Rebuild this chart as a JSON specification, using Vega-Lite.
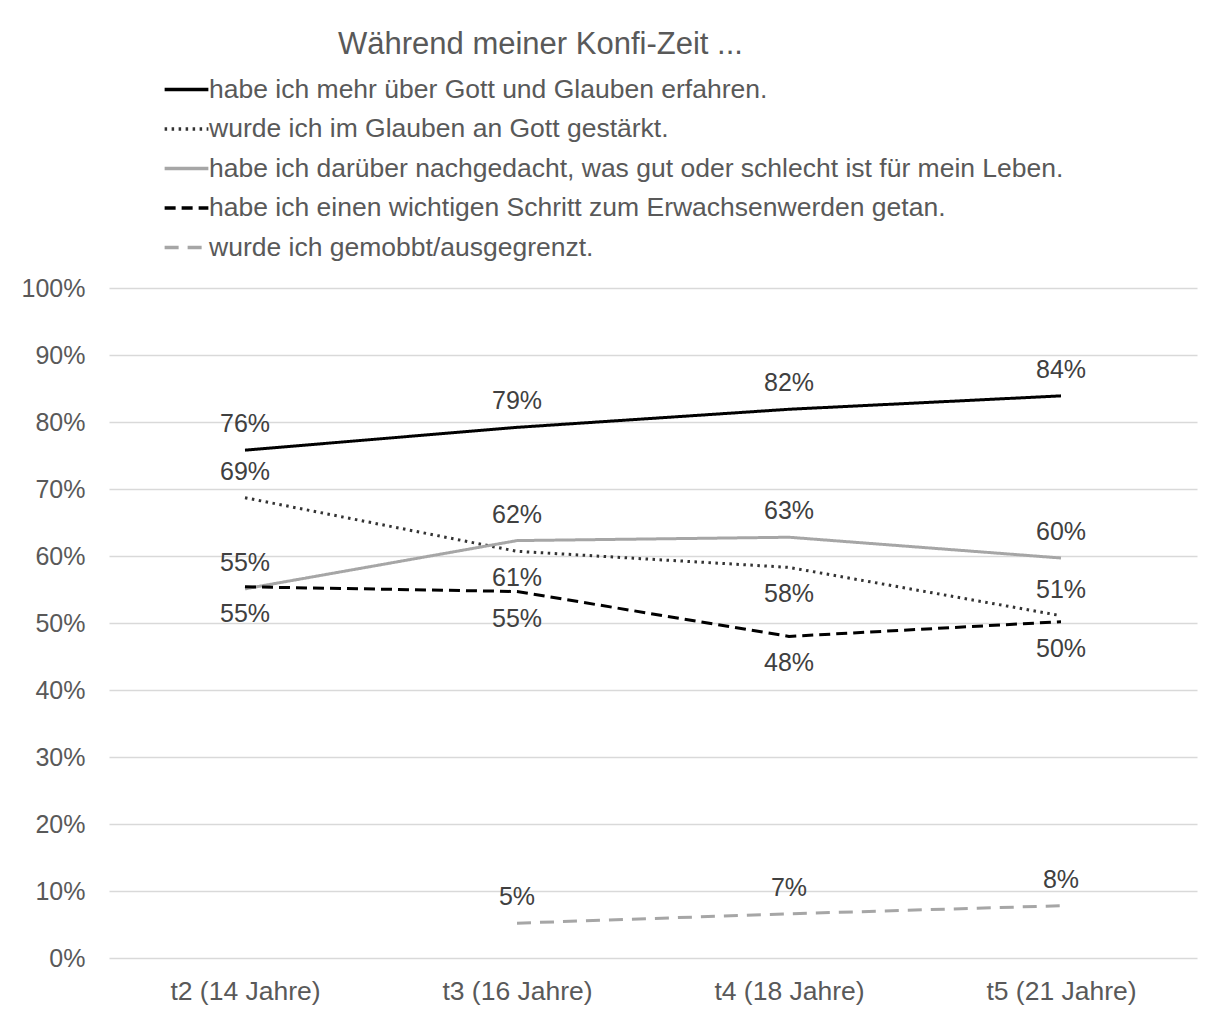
{
  "$schema": "https://vega.github.io/schema/vega-lite/v6.json",
  "autosize": "none",
  "width": 1088,
  "height": 670,
  "padding": {"left": 109, "top": 288, "right": 15, "bottom": 52},
  "background": "white",
  "title": {
    "text": "Während meiner Konfi-Zeit ...",
    "anchor": "start",
    "frame": "group",
    "dx": 229,
    "offset": 9,
    "fontSize": 31,
    "fontWeight": "normal",
    "font": "Liberation Sans",
    "color": "#595959"
  },
  "data": {
    "values": [
      {"t": "t2 (14 Jahre)", "s": "habe ich mehr über Gott und Glauben erfahren.", "v": 0.758},
      {"t": "t3 (16 Jahre)", "s": "habe ich mehr über Gott und Glauben erfahren.", "v": 0.792},
      {"t": "t4 (18 Jahre)", "s": "habe ich mehr über Gott und Glauben erfahren.", "v": 0.819},
      {"t": "t5 (21 Jahre)", "s": "habe ich mehr über Gott und Glauben erfahren.", "v": 0.839},
      {"t": "t2 (14 Jahre)", "s": "wurde ich im Glauben an Gott gestärkt.", "v": 0.687},
      {"t": "t3 (16 Jahre)", "s": "wurde ich im Glauben an Gott gestärkt.", "v": 0.607},
      {"t": "t4 (18 Jahre)", "s": "wurde ich im Glauben an Gott gestärkt.", "v": 0.583},
      {"t": "t5 (21 Jahre)", "s": "wurde ich im Glauben an Gott gestärkt.", "v": 0.511},
      {"t": "t2 (14 Jahre)", "s": "habe ich darüber nachgedacht, was gut oder schlecht ist für mein Leben.", "v": 0.551},
      {"t": "t3 (16 Jahre)", "s": "habe ich darüber nachgedacht, was gut oder schlecht ist für mein Leben.", "v": 0.623},
      {"t": "t4 (18 Jahre)", "s": "habe ich darüber nachgedacht, was gut oder schlecht ist für mein Leben.", "v": 0.628},
      {"t": "t5 (21 Jahre)", "s": "habe ich darüber nachgedacht, was gut oder schlecht ist für mein Leben.", "v": 0.597},
      {"t": "t2 (14 Jahre)", "s": "habe ich einen wichtigen Schritt zum Erwachsenwerden getan.", "v": 0.554},
      {"t": "t3 (16 Jahre)", "s": "habe ich einen wichtigen Schritt zum Erwachsenwerden getan.", "v": 0.547},
      {"t": "t4 (18 Jahre)", "s": "habe ich einen wichtigen Schritt zum Erwachsenwerden getan.", "v": 0.48},
      {"t": "t5 (21 Jahre)", "s": "habe ich einen wichtigen Schritt zum Erwachsenwerden getan.", "v": 0.502},
      {"t": "t3 (16 Jahre)", "s": "wurde ich gemobbt/ausgegrenzt.", "v": 0.052},
      {"t": "t4 (18 Jahre)", "s": "wurde ich gemobbt/ausgegrenzt.", "v": 0.066},
      {"t": "t5 (21 Jahre)", "s": "wurde ich gemobbt/ausgegrenzt.", "v": 0.078}
    ]
  },
  "encoding": {
    "x": {
      "field": "t",
      "type": "nominal",
      "sort": null,
      "scale": {"type": "point", "padding": 0.5},
      "axis": {
        "title": null,
        "labelAngle": 0,
        "ticks": false,
        "domain": false,
        "labelPadding": 20,
        "labelFontSize": 26.5,
        "labelColor": "#595959",
        "labelFont": "Liberation Sans",
        "grid": false
      }
    },
    "y": {
      "field": "v",
      "type": "quantitative",
      "scale": {"domain": [0, 1]},
      "axis": {
        "title": null,
        "format": ".0%",
        "values": [0, 0.1, 0.2, 0.3, 0.4, 0.5, 0.6, 0.7, 0.8, 0.9, 1],
        "labelOverlap": false,
        "ticks": false,
        "domain": false,
        "labelPadding": 24,
        "labelFontSize": 25,
        "labelColor": "#595959",
        "labelFont": "Liberation Sans",
        "grid": true,
        "gridColor": "#d9d9d9",
        "gridWidth": 1.3
      }
    }
  },
  "layer": [
    {
      "mark": {"type": "line", "strokeWidth": 3},
      "encoding": {
        "color": {
          "field": "s",
          "type": "nominal",
          "sort": null,
          "scale": {
            "domain": [
              "habe ich mehr über Gott und Glauben erfahren.",
              "wurde ich im Glauben an Gott gestärkt.",
              "habe ich darüber nachgedacht, was gut oder schlecht ist für mein Leben.",
              "habe ich einen wichtigen Schritt zum Erwachsenwerden getan.",
              "wurde ich gemobbt/ausgegrenzt."
            ],
            "range": ["#000000", "#333333", "#a6a6a6", "#000000", "#a6a6a6"]
          },
          "legend": {
            "title": null,
            "orient": "none",
            "legendX": 58,
            "legendY": -218,
            "symbolType": "M-1.25,0H1.25",
            "symbolSize": 1225,
            "symbolStrokeWidth": 3.5,
            "labelOffset": 3,
            "labelFontSize": 26.5,
            "labelFont": "Liberation Sans",
            "labelColor": "#595959",
            "labelLimit": 1100,
            "rowPadding": 6.5
          }
        },
        "strokeDash": {
          "field": "s",
          "type": "nominal",
          "sort": null,
          "scale": {
            "domain": [
              "habe ich mehr über Gott und Glauben erfahren.",
              "wurde ich im Glauben an Gott gestärkt.",
              "habe ich darüber nachgedacht, was gut oder schlecht ist für mein Leben.",
              "habe ich einen wichtigen Schritt zum Erwachsenwerden getan.",
              "wurde ich gemobbt/ausgegrenzt."
            ],
            "range": [[1, 0], [2.5, 4.5], [1, 0], [11, 6], [14, 9]]
          },
          "legend": null
        }
      }
    },
    {
      "transform": [
        {"filter": "datum.s == 'habe ich mehr über Gott und Glauben erfahren.' || datum.s == 'habe ich darüber nachgedacht, was gut oder schlecht ist für mein Leben.' || datum.s == 'wurde ich gemobbt/ausgegrenzt.' || (datum.s == 'wurde ich im Glauben an Gott gestärkt.' && (datum.t == 't2 (14 Jahre)' || datum.t == 't5 (21 Jahre)'))"}
      ],
      "mark": {"type": "text", "dy": -26, "fontSize": 25, "font": "Liberation Sans", "color": "#404040"},
      "encoding": {"text": {"field": "v", "type": "quantitative", "format": ".0%"}}
    },
    {
      "transform": [
        {"filter": "datum.s == 'habe ich einen wichtigen Schritt zum Erwachsenwerden getan.' || (datum.s == 'wurde ich im Glauben an Gott gestärkt.' && (datum.t == 't3 (16 Jahre)' || datum.t == 't4 (18 Jahre)'))"}
      ],
      "mark": {"type": "text", "dy": 27, "fontSize": 25, "font": "Liberation Sans", "color": "#404040"},
      "encoding": {"text": {"field": "v", "type": "quantitative", "format": ".0%"}}
    }
  ],
  "config": {"view": {"stroke": null}}
}
